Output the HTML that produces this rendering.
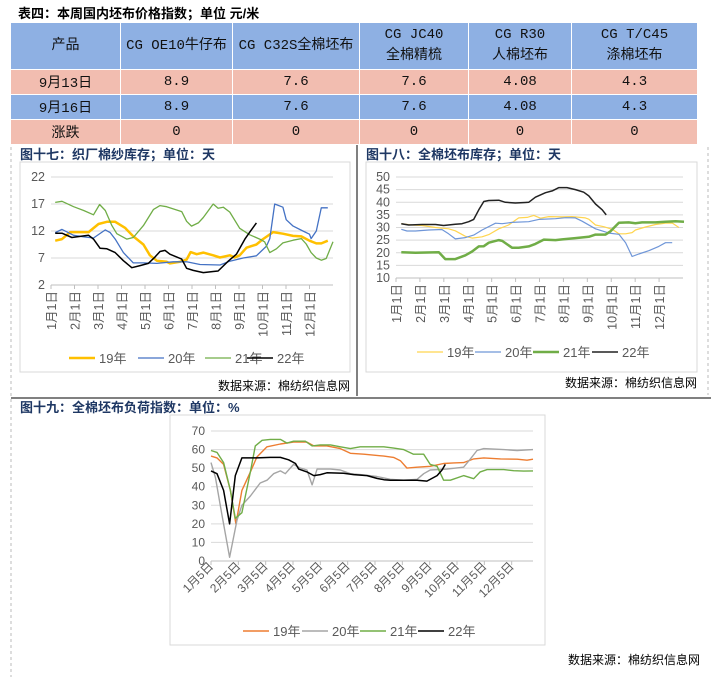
<!DOCTYPE html>
<html><head><meta charset="utf-8">
<style>
body{margin:0;width:711px;height:677px;background:#fff;position:relative;overflow:hidden;font-family:"Liberation Sans","Noto Sans CJK SC",sans-serif;}
table{position:absolute;left:10px;top:22px;border-collapse:collapse;width:688px;font-family:"Liberation Mono","Noto Sans CJK SC",monospace;font-size:14px;color:#111;}
td{border:1px solid #fff;text-align:center;padding:0;}
.h td{background:#8EB0E3;height:46px;line-height:21px}
.p td{background:#F2BDB0;height:24px}
.b td{background:#8EB0E3;height:24px}
#tt{position:absolute;left:18px;top:3px;font-weight:bold;font-size:13px;}
svg{position:absolute;left:0;top:0}
</style></head><body>
<div id="tt">表四：本周国内坯布价格指数；单位 元/米</div>
<table>
<tr class="h"><td style="width:109px">产品</td><td style="width:111px">CG OE10牛仔布</td><td style="width:126px">CG C32S全棉坯布</td><td style="width:108px">CG JC40<br>全棉精梳</td><td style="width:102px">CG R30<br>人棉坯布</td><td>CG T/C45<br>涤棉坯布</td></tr>
<tr class="p"><td>9月13日</td><td>8.9</td><td>7.6</td><td>7.6</td><td>4.08</td><td>4.3</td></tr>
<tr class="b"><td>9月16日</td><td>8.9</td><td>7.6</td><td>7.6</td><td>4.08</td><td>4.3</td></tr>
<tr class="p"><td>涨跌</td><td>0</td><td>0</td><td>0</td><td>0</td><td>0</td></tr>
</table>
<svg id="s" width="711" height="677" xmlns="http://www.w3.org/2000/svg" font-family="Liberation Sans, Noto Sans CJK SC, sans-serif">
<line x1="11" y1="147" x2="11" y2="677" stroke="#bbb" stroke-dasharray="3,3"/>
<line x1="708" y1="147" x2="708" y2="395" stroke="#bbb" stroke-dasharray="3,3"/>
<line x1="357" y1="145" x2="357" y2="396" stroke="#000"/>
<line x1="11" y1="398" x2="711" y2="398" stroke="#000"/>
<rect x="20" y="162" width="330" height="210" fill="none" stroke="#d9d9d9"/>
<rect x="366" y="162" width="331" height="210" fill="none" stroke="#d9d9d9"/>
<rect x="170" y="415" width="375" height="230" fill="none" stroke="#d9d9d9"/>
<text x="20" y="159" font-weight="bold" font-size="13" fill="#1F3864">图十七：织厂棉纱库存；单位：天</text>
<text x="366" y="159" font-weight="bold" font-size="13" fill="#1F3864">图十八：全棉坯布库存；单位：天</text>
<text x="20" y="412" font-weight="bold" font-size="13" fill="#1F3864">图十九：全棉坯布负荷指数：单位：%</text>
<text x="350" y="390" text-anchor="end" font-size="12" fill="#000">数据来源：棉纺织信息网</text>
<text x="697" y="387" text-anchor="end" font-size="12" fill="#000">数据来源：棉纺织信息网</text>
<text x="700" y="664" text-anchor="end" font-size="12" fill="#000">数据来源：棉纺织信息网</text>
</svg>
<script>
const seriesNames=["19年","20年","21年","22年"];
const monthLabels=["1月1日","2月1日","3月1日","4月1日","5月1日","6月1日","7月1日","8月1日","9月1日","10月1日","11月1日","12月1日"];
const monthLabels5=["1月5日","2月5日","3月5日","4月5日","5月5日","6月5日","7月5日","8月5日","9月5日","10月5日","11月5日","12月5日"];
// chart 17 (months, days)
const c17x19=[.18,.47,.82,1.6,2.02,2.38,2.73,3.15,3.5,3.93,4.21,4.5,4.92,5.06,5.49,5.77,5.94,6.2,6.48,6.9,7.19,7.61,7.82,8.03,8.32,8.74,9.02,9.45,9.87,10.3,10.65,11.0,11.29,11.5,11.78];
const c17y19=[10.2,10.5,11.8,11.8,13.3,13.7,13.7,12.6,11.0,9.5,7.5,6.5,6.3,6.0,6.3,6.7,8.1,7.7,8.0,7.5,7.1,7.5,7.1,7.5,8.9,9.5,10.5,11.8,11.5,11.1,11.0,10.2,9.7,9.7,10.2];
const c17x20=[.18,.47,.96,1.39,1.81,2.31,2.52,2.73,3.08,3.5,3.93,4.5,5.2,5.77,6.34,7.19,7.61,8.18,8.74,9.17,9.31,9.52,9.87,10.01,10.3,10.72,11.0,11.07,11.29,11.5,11.78];
const c17y20=[11.7,12.3,11.2,10.9,10.7,12.2,11.7,10.5,8,6.1,6.1,6.0,6.3,6.3,5.8,5.7,6.4,7.0,7.4,9.2,10.6,17.0,16.4,14.1,12.9,12.0,11.4,10.6,12.0,16.3,16.3];
const c17x21=[.18,.47,.96,1.39,1.81,2.07,2.31,2.59,2.8,3.22,3.5,3.93,4.36,4.64,4.92,5.2,5.56,5.77,5.98,6.27,6.48,6.9,7.11,7.33,7.61,8.03,8.46,8.88,9.09,9.31,9.59,9.87,10.3,10.65,10.86,11.07,11.29,11.5,11.71,12.0];
const c17y21=[17.3,17.5,16.5,15.8,15.0,16.9,15.8,13.0,11.5,10.5,10.8,13,16.0,16.7,16.5,16.1,15.6,13.8,12.9,13.5,14.5,17.0,16.2,16.4,15.5,12.5,11.3,10.5,10.0,8.0,8.7,9.8,10.3,10.6,9.6,8.0,7.0,6.6,6.9,10.0];
const c17x22=[.18,.47,.89,1.24,1.6,1.81,2.09,2.38,2.73,3.08,3.44,3.79,4.14,4.43,4.64,4.85,5.06,5.56,5.77,6.05,6.48,6.9,7.11,7.54,7.89,8.25,8.46,8.74];
const c17y22=[11.6,11.6,10.8,11.0,11.2,10.5,8.8,8.7,8.0,6.5,5.2,5.6,6.0,7.2,8.2,8.4,7.7,6.8,5.1,4.7,4.3,4.5,4.6,6.4,7.7,10.5,11.8,13.5];
const c17ticks=[2,7,12,17,22];
// chart 18
const c18x19=[.22,.67,1.09,1.65,2.2,2.48,2.9,3.18,3.6,3.88,4.3,4.71,5.13,5.48,5.76,6.04,6.39,6.95,7.36,7.92,8.06,8.34,8.69,9.04,9.32,9.6,9.87,10.01,10.43,10.85,11.27,11.55,11.83];
const c18y19=[31.5,31,30.8,30,29.5,28.7,26.5,25.8,26.3,27.2,29.5,31,33.8,34,34.8,33.7,34.3,34.2,34.3,33.8,33.3,31,30.3,29.3,27.5,27.5,28,29,30.2,31.2,31.7,31.8,30];
const c18x20=[.22,.46,.81,1.37,1.92,2.2,2.48,2.9,3.25,3.6,4.16,4.44,4.85,5.55,5.97,6.67,7.09,7.5,7.78,8.34,8.9,9.32,9.6,9.87,10.15,10.57,10.99,11.27,11.55];
const c18y20=[29.3,28.6,28.6,29,29.2,27.5,25.5,26.0,27.0,29,31.7,31.5,32.0,32.3,33.2,33.5,33.9,33.8,32.5,29.5,27.8,27.3,24,18.5,19.5,20.8,22.5,24,24];
const c18x21=[.22,.81,1.79,2.06,2.48,2.9,3.18,3.46,3.67,3.88,4.3,4.44,4.85,5.13,5.55,5.83,6.18,6.67,6.95,7.5,8.06,8.34,8.76,8.97,9.32,9.73,10.01,10.29,10.85,11.27,11.69,12.04];
const c18y21=[20.2,20,20.2,17.5,17.5,19.0,20.5,22.5,22.6,24,25,24.7,22,22,22.5,23.5,25.2,25,25.3,25.8,26.3,27.2,27.2,28.5,31.9,32,31.7,32,32,32.3,32.5,32.3];
const c18x22=[.22,.53,1.09,1.65,1.99,2.48,2.76,3.04,3.25,3.46,3.67,3.88,4.3,4.57,4.99,5.41,5.55,5.83,6.25,6.53,6.81,7.15,7.5,7.85,8.06,8.34,8.62,8.79];
const c18y22=[31.5,31,31.2,31.2,30.8,31.3,31.5,32.3,33.2,37,40.3,40.7,40.8,40,39.7,39.9,40,42,43.8,44.5,45.8,45.8,45,44,42.5,39.3,37,35];
const c18ticks=[10,15,20,25,30,35,40,45,50];
// chart 19
const c19x19=[0,.22,.46,.71,.91,1.13,1.44,1.68,2.05,2.54,3.02,3.51,3.76,4.24,4.73,5.1,5.59,6.32,6.68,6.93,7.17,7.54,8.02,8.51,8.88,9.24,9.61,9.98,10.59,11.2,11.56,11.78];
const c19y19=[56.5,55.5,52,38,20,38,48,56,61.5,63,64,64,62,62,60.5,58,57.5,56.5,55.8,54,50,50.5,51,52.5,52.8,53,55,55.5,55,54.8,54.3,54.8];
const c19x20=[0,.16,.4,.68,.95,1.13,1.44,1.8,2.05,2.29,2.54,2.72,3.02,3.27,3.51,3.7,3.88,4.37,4.73,5.1,5.46,6.07,6.56,7.05,7.54,7.78,8.02,8.63,9.24,9.49,9.73,9.98,10.71,11.2,11.78];
const c19y20=[53,45,25,2,22,30,35,42,43.5,47,48.5,47,52,50,49,41,49.5,49.5,49,47,46.5,45.5,44,43.5,44,47,49,49.5,50.5,55,59.5,60.5,60,59.5,60];
const c19x21=[0,.22,.46,.71,.89,1.13,1.44,1.62,1.87,2.17,2.54,2.78,3.02,3.45,3.7,4,4.37,4.73,5.1,5.46,6.32,6.68,7.05,7.41,7.78,8.02,8.27,8.51,8.76,9.24,9.61,9.85,10.1,10.71,11.07,11.44,11.78];
const c19y21=[59.5,58.5,53,38,23,26,48,62,65,65.5,65.5,63.5,64.5,64.5,62,62.5,62.5,61.5,60.5,61.5,61.5,60.8,60,57.5,57.5,52,51,43.5,43.5,46,44.3,48,49.2,49.2,48.6,48.4,48.5];
const c19x22=[0,.22,.46,.68,.89,1.13,1.68,2.17,2.54,2.84,3.09,3.21,3.51,3.76,4,4.24,4.85,5.22,5.71,6.07,6.32,6.56,7.05,7.54,7.9,8.27,8.45,8.57];
const c19y22=[48.5,47,38,20,46,55.5,55.5,55.8,55.8,54.5,52.5,49.5,48,46,46.5,47.5,47.3,46.5,46,44.5,43.8,43.5,43.5,43.5,43,46,49,52];
const c19ticks=[0,10,20,30,40,50,60,70];

const NS="http://www.w3.org/2000/svg";
const svg=document.getElementById('s');
function mk(tag,attrs){const e=document.createElementNS(NS,tag);for(const k in attrs)e.setAttribute(k,attrs[k]);svg.appendChild(e);return e;}
function chart(id,cfg){
  const sx=m=>cfg.x0+(m-cfg.xmin)/(cfg.xmax-cfg.xmin)*(cfg.x1-cfg.x0);
  const sy=v=>cfg.yb+(v-cfg.ymin)/(cfg.ymax-cfg.ymin)*(cfg.yt-cfg.yb);
  cfg.ticks.forEach(t=>{
    const g=mk('line',{x1:cfg.x0,x2:cfg.x1,y1:sy(t),y2:sy(t),stroke:'#d9d9d9'});
    
    
    const l=mk('text',{x:cfg.x0-6,y:sy(t)+4,'text-anchor':'end','font-size':cfg.fs,fill:'#595959'});
    l.textContent=t;
    
    
  });
  const ax=mk('line',{x1:cfg.x0,x2:cfg.x1,y1:sy(cfg.ymin),y2:sy(cfg.ymin),stroke:'#bfbfbf'});
  
  
  cfg.labels.forEach((lab,i)=>{
    const x=sx(i);const y0=sy(cfg.ymin);
    mk('line',{x1:x,x2:x,y1:y0,y2:y0+4,stroke:'#bfbfbf'});
    const ox=cfg.rot===-90?5:3;
    const t=mk('text',{x:x+ox,y:y0+6,'text-anchor':'end','font-size':cfg.fs,fill:'#595959',transform:`rotate(${cfg.rot} ${x+ox} ${y0+6})`});
    t.textContent=lab;
    
    
  });
  cfg.series.forEach((s,i)=>{
    const p=mk('polyline',{points:s.x.map((m,j)=>sx(m).toFixed(1)+','+sy(s.y[j]).toFixed(1)).join(' '),fill:'none',stroke:s.c,'stroke-width':s.w,'stroke-linejoin':'round'});
    
    
    const lg=cfg.leg[i];
    const ll=mk('line',{x1:lg,x2:lg+26,y1:cfg.ly,y2:cfg.ly,stroke:s.c,'stroke-width':s.w});
    
    
    const lt=mk('text',{x:lg+30,y:cfg.ly+5,'font-size':13,fill:'#595959'});
    lt.textContent=seriesNames[i];
    
    
  });
}
chart('chart17',{x0:51,x1:333,xmin:0,xmax:12,yb:285,yt:177,ymin:2,ymax:22,ticks:c17ticks,labels:monthLabels,rot:-90,fs:12.5,ly:358,leg:[69,138,205,247],
 series:[{x:c17x19,y:c17y19,c:'#FFC000',w:2.5},{x:c17x20,y:c17y20,c:'#4472C4',w:1.3},{x:c17x21,y:c17y21,c:'#70AD47',w:1.3},{x:c17x22,y:c17y22,c:'#000',w:1.5}]});
chart('chart18',{x0:396,x1:683,xmin:0,xmax:12,yb:278,yt:177,ymin:10,ymax:50,ticks:c18ticks,labels:monthLabels,rot:-90,fs:12.5,ly:352,leg:[417,475,533,592],
 series:[{x:c18x19,y:c18y19,c:'#FFD54F',w:1.2},{x:c18x20,y:c18y20,c:'#6F96D8',w:1.2},{x:c18x21,y:c18y21,c:'#70AD47',w:2.5},{x:c18x22,y:c18y22,c:'#222',w:1.5}]});
chart('chart19',{x0:211,x1:533,xmin:0,xmax:11.78,yb:561,yt:431,ymin:0,ymax:70,ticks:c19ticks,labels:monthLabels5,rot:-45,fs:12,ly:631,leg:[243,302,360,418],
 series:[{x:c19x19,y:c19y19,c:'#ED7D31',w:1.4},{x:c19x20,y:c19y20,c:'#A5A5A5',w:1.4},{x:c19x21,y:c19y21,c:'#70AD47',w:1.4},{x:c19x22,y:c19y22,c:'#000',w:1.5}]});
</script>
</body></html>
